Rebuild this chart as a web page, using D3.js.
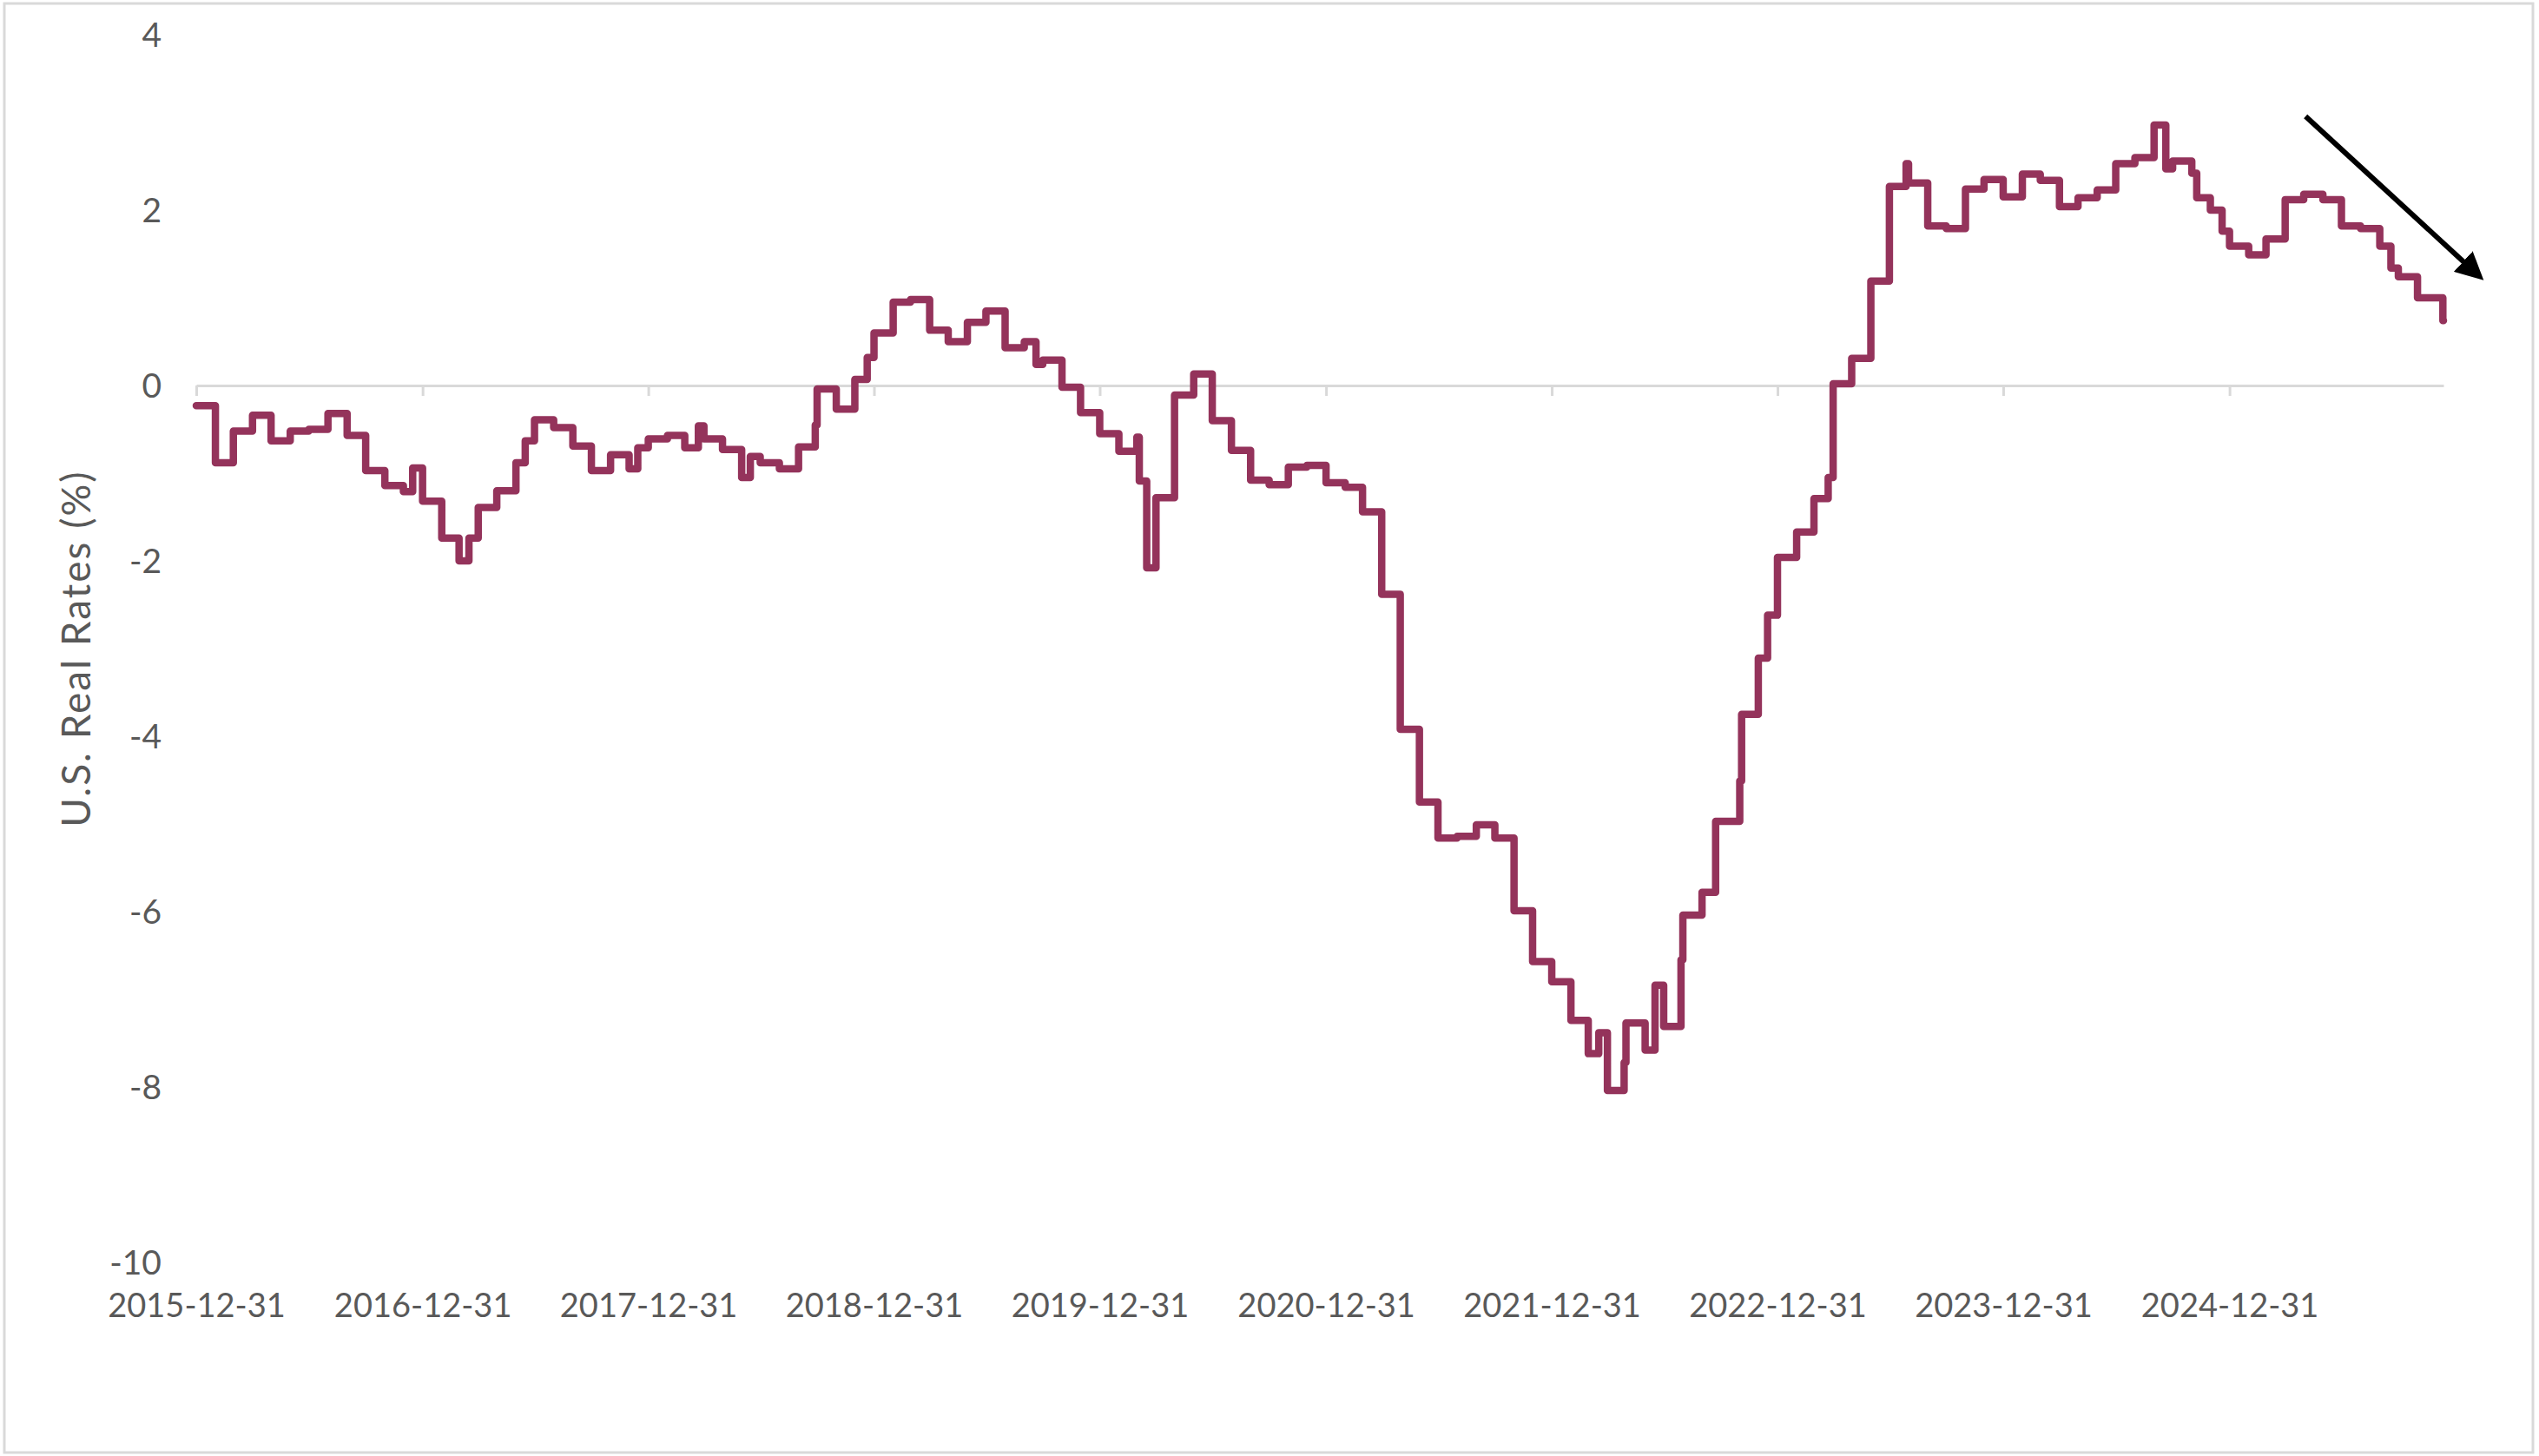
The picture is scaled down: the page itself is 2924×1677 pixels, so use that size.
<!DOCTYPE html>
<html>
<head>
<meta charset="utf-8">
<script src="https://cdn.jsdelivr.net/npm/d3@7"></script>
<style>
  html, body { margin: 0; padding: 0; background: #ffffff; }
  svg { display: block; }
</style>
</head>
<body>
<svg id="chart" width="2924" height="1677"></svg>
<script>
// ---------------- DATA ----------------
const dates = [
  "2015-12-31","2016-01-31","2016-02-29","2016-03-31","2016-04-30","2016-05-31","2016-06-30","2016-07-31",
  "2016-08-31","2016-09-30","2016-10-31","2016-11-30","2016-12-15","2016-12-31","2017-01-31","2017-02-28",
  "2017-03-16","2017-03-31","2017-04-30","2017-05-31","2017-06-15","2017-06-30","2017-07-31","2017-08-31",
  "2017-09-30","2017-10-31","2017-11-30","2017-12-14","2017-12-31","2018-01-31","2018-02-28","2018-03-22",
  "2018-03-31","2018-04-30","2018-05-31","2018-06-14","2018-06-30","2018-07-31","2018-08-31","2018-09-27",
  "2018-09-30","2018-10-31","2018-11-30","2018-12-20","2018-12-31","2019-01-31","2019-02-28","2019-03-31",
  "2019-04-30","2019-05-31","2019-06-30","2019-07-31","2019-08-31","2019-09-19","2019-09-30","2019-10-31",
  "2019-11-30","2019-12-31","2020-01-31","2020-02-29","2020-03-04","2020-03-16","2020-03-31","2020-04-30",
  "2020-05-31","2020-06-30","2020-07-31","2020-08-31","2020-09-30","2020-10-31","2020-11-30","2020-12-31",
  "2021-01-31","2021-02-28","2021-03-31","2021-04-30","2021-05-31","2021-06-30","2021-07-31","2021-08-31",
  "2021-09-30","2021-10-31","2021-11-30","2021-12-31","2022-01-31","2022-02-28","2022-03-17","2022-03-31",
  "2022-04-27","2022-04-30","2022-05-31","2022-06-16","2022-06-30","2022-07-28","2022-07-31","2022-08-31",
  "2022-09-22","2022-10-31","2022-11-03","2022-11-30","2022-12-15","2022-12-31","2023-01-31","2023-02-28",
  "2023-03-23","2023-03-31","2023-04-30","2023-05-31","2023-06-30","2023-07-27","2023-07-31","2023-08-31",
  "2023-09-30","2023-10-31","2023-11-30","2023-12-31","2024-01-31","2024-02-29","2024-03-31","2024-04-30",
  "2024-05-31","2024-06-30","2024-07-31","2024-08-31","2024-09-19","2024-09-30","2024-10-31","2024-11-08",
  "2024-11-30","2024-12-19","2024-12-31","2025-01-31","2025-02-28","2025-03-31","2025-04-30","2025-05-31",
  "2025-06-30","2025-07-31","2025-08-31","2025-09-18","2025-09-30","2025-10-31","2025-12-11","2025-12-12"
];
const rates = [
  -0.23,-0.88,-0.52,-0.34,-0.63,-0.52,-0.50,-0.32,
  -0.57,-0.97,-1.14,-1.21,-0.94,-1.32,-1.74,-2.00,
  -1.74,-1.39,-1.20,-0.88,-0.63,-0.39,-0.48,-0.69,
  -0.97,-0.79,-0.95,-0.71,-0.61,-0.57,-0.71,-0.46,
  -0.61,-0.73,-1.05,-0.81,-0.88,-0.95,-0.70,-0.45,
  -0.04,-0.27,0.07,0.32,0.60,0.95,0.98,0.63,
  0.50,0.72,0.85,0.43,0.50,0.24,0.29,-0.02,
  -0.31,-0.55,-0.75,-0.59,-1.09,-2.08,-1.28,-0.11,
  0.13,-0.40,-0.74,-1.08,-1.13,-0.93,-0.91,-1.11,
  -1.16,-1.44,-2.38,-3.92,-4.75,-5.16,-5.14,-5.01,
  -5.16,-5.99,-6.57,-6.80,-7.24,-7.62,-7.38,-8.04,
  -7.72,-7.27,-7.58,-6.84,-7.31,-6.55,-6.04,-5.78,
  -4.97,-4.51,-3.75,-3.11,-2.62,-1.96,-1.67,-1.29,
  -1.05,0.02,0.31,1.19,2.27,2.53,2.31,1.82,
  1.79,2.24,2.35,2.15,2.41,2.34,2.04,2.14,
  2.23,2.53,2.60,2.97,2.47,2.56,2.42,2.14,
  2.00,1.76,1.59,1.49,1.67,2.12,2.18,2.12,
  1.82,1.79,1.59,1.34,1.24,1.00,0.74,0.74
];
const xTickLabels = ["2015-12-31","2016-12-31","2017-12-31","2018-12-31","2019-12-31",
                     "2020-12-31","2021-12-31","2022-12-31","2023-12-31","2024-12-31"];
const yTickValues = [4, 2, 0, -2, -4, -6, -8, -10];
const yAxisTitle = "U.S. Real Rates (%)";
// annotation arrow (data space): start and end
const arrowDates = ["2025-05-03", "2026-02-15"];
const arrowValues = [3.07, 1.20];

// ---------------- DRAW ----------------
const parse = d3.utcParse("%Y-%m-%d");
const series = dates.map((d, i) => ({ date: parse(d), v: rates[i] }));

const W = 2924, H = 1677;
const svg = d3.select("#chart");

const x = d3.scaleUtc()
  .domain([parse(dates[0]), parse(dates[dates.length - 1])])
  .range([226, 2814]);
const y = d3.scaleLinear().domain([-10, 4]).range([1454, 40]);

const textColor = "#595959";
const fontFamily = "Lato, 'Open Sans', sans-serif";

// outer border
svg.append("rect")
  .attr("x", 5).attr("y", 4).attr("width", W - 12).attr("height", H - 8)
  .attr("fill", "#fff").attr("stroke", "#d9d9d9").attr("stroke-width", 3);

// zero axis with yearly ticks
const tickDates = xTickLabels.map(parse);
const xAxisLine = svg.append("g")
  .attr("transform", `translate(0,${y(0)})`)
  .call(d3.axisBottom(x).tickValues(tickDates).tickSize(12).tickSizeOuter(0).tickFormat(""));
xAxisLine.select(".domain").attr("stroke", "#d9d9d9").attr("stroke-width", 3);
xAxisLine.selectAll(".tick line").attr("stroke", "#d9d9d9").attr("stroke-width", 3);

// x tick labels at bottom
const xLabels = svg.append("g")
  .attr("transform", `translate(0,1490)`)
  .call(d3.axisBottom(x).tickValues(tickDates).tickSize(0).tickPadding(0)
    .tickFormat(d3.utcFormat("%Y-%m-%d")));
xLabels.select(".domain").remove();
xLabels.selectAll("text")
  .attr("fill", textColor)
  .attr("font-family", fontFamily)
  .attr("font-size", 38)
  .attr("dy", "0.71em");

// y tick labels (plain hyphen minus as in the source)
const yAxis = svg.append("g")
  .attr("transform", `translate(186,0)`)
  .call(d3.axisLeft(y).tickValues(yTickValues).tickSize(0).tickPadding(0)
    .tickFormat(d => String(d)));
yAxis.select(".domain").remove();
yAxis.selectAll("text")
  .attr("fill", textColor)
  .attr("font-family", fontFamily)
  .attr("font-size", 39)
  .attr("dy", "0.35em");

// y axis title
svg.append("text")
  .attr("transform", `translate(104,${(y(4) + y(-10)) / 2}) rotate(-90)`)
  .attr("text-anchor", "middle")
  .attr("fill", textColor)
  .attr("font-family", fontFamily)
  .attr("font-size", 46)
  .attr("letter-spacing", 2)
  .text(yAxisTitle);

// step line
const line = d3.line()
  .x(d => x(d.date))
  .y(d => y(d.v))
  .curve(d3.curveStepAfter);

svg.append("path")
  .datum(series)
  .attr("d", line)
  .attr("fill", "none")
  .attr("stroke", "#94335b")
  .attr("stroke-width", 8.5)
  .attr("stroke-linejoin", "round")
  .attr("stroke-linecap", "round");

// annotation arrow
const defs = svg.append("defs");
defs.append("marker")
  .attr("id", "arrowhead")
  .attr("viewBox", "0 0 10 10")
  .attr("refX", 10).attr("refY", 5)
  .attr("markerUnits", "userSpaceOnUse")
  .attr("markerWidth", 32).attr("markerHeight", 32)
  .attr("orient", "auto")
  .append("path")
  .attr("d", "M0,0 L10,5 L0,10 Z")
  .attr("fill", "#000");

const a0 = [x(parse(arrowDates[0])), y(arrowValues[0])];
const a1 = [x(parse(arrowDates[1])), y(arrowValues[1])];
svg.append("line")
  .attr("x1", a0[0]).attr("y1", a0[1])
  .attr("x2", a1[0] - (a1[0] - a0[0]) * 0.08).attr("y2", a1[1] - (a1[1] - a0[1]) * 0.08)
  .attr("stroke", "#000")
  .attr("stroke-width", 6);
svg.append("line")
  .attr("x1", a1[0] - (a1[0] - a0[0]) * 0.1).attr("y1", a1[1] - (a1[1] - a0[1]) * 0.1)
  .attr("x2", a1[0]).attr("y2", a1[1])
  .attr("stroke", "#000").attr("stroke-width", 0.1).attr("stroke-opacity", 0)
  .attr("marker-end", "url(#arrowhead)");
</script>
</body>
</html>
